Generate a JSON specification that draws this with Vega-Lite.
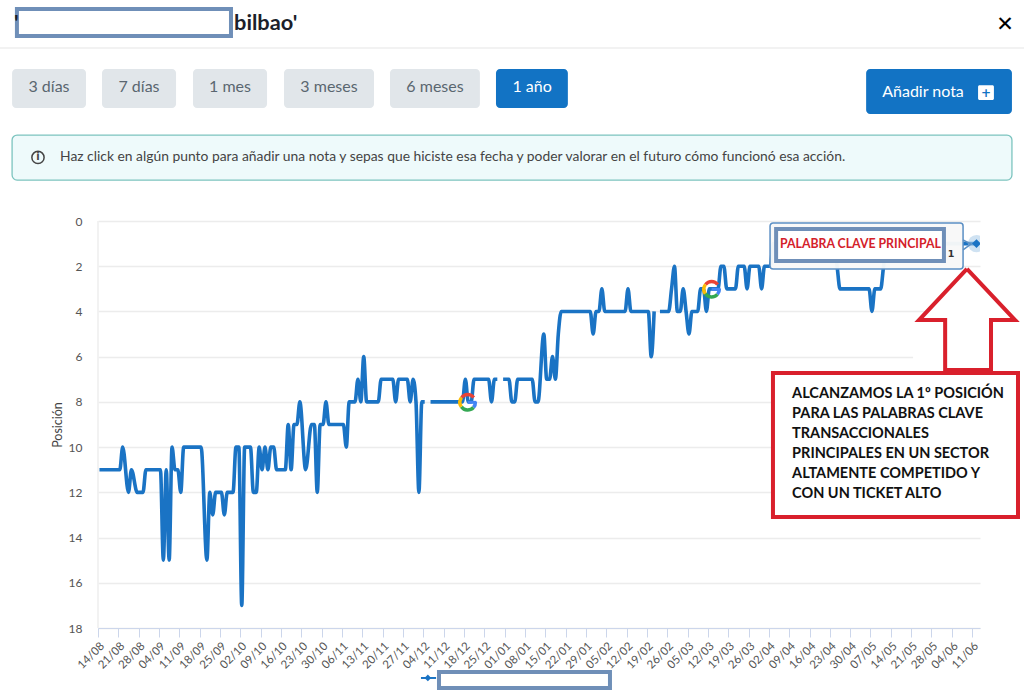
{
"$schema":"https://vega.github.io/schema/vega-lite/v6.json",
"width":882,"height":407,
"autosize":{"type":"none"},
"padding":{"left":98,"top":221,"right":44,"bottom":66},
"background":"white",
"config":{"view":{"stroke":null},"font":"Lato"},
"datasets":{
"serie":[
{"fecha":"2022-08-14T12:00Z","posicion":11},{"fecha":"2022-08-21T12:00Z","posicion":11},{"fecha":"2022-08-22T12:00Z","posicion":10},{"fecha":"2022-08-24T12:00Z","posicion":12},{"fecha":"2022-08-25T12:00Z","posicion":11},{"fecha":"2022-08-27T12:00Z","posicion":12},{"fecha":"2022-08-29T12:00Z","posicion":12},{"fecha":"2022-08-30T12:00Z","posicion":11},
{"fecha":"2022-09-04T12:00Z","posicion":11},{"fecha":"2022-09-05T12:00Z","posicion":15},{"fecha":"2022-09-06T12:00Z","posicion":11},{"fecha":"2022-09-07T12:00Z","posicion":15},{"fecha":"2022-09-08T12:00Z","posicion":10},{"fecha":"2022-09-09T12:00Z","posicion":11},{"fecha":"2022-09-10T12:00Z","posicion":11},{"fecha":"2022-09-11T12:00Z","posicion":12},{"fecha":"2022-09-12T12:00Z","posicion":10},{"fecha":"2022-09-18T12:00Z","posicion":10},{"fecha":"2022-09-20T12:00Z","posicion":15},{"fecha":"2022-09-21T12:00Z","posicion":12},{"fecha":"2022-09-22T12:00Z","posicion":13},{"fecha":"2022-09-23T12:00Z","posicion":12},{"fecha":"2022-09-25T12:00Z","posicion":12},{"fecha":"2022-09-26T12:00Z","posicion":13},{"fecha":"2022-09-27T12:00Z","posicion":12},{"fecha":"2022-09-29T12:00Z","posicion":12},{"fecha":"2022-09-30T12:00Z","posicion":10},
{"fecha":"2022-10-01T12:00Z","posicion":10},{"fecha":"2022-10-02T12:00Z","posicion":17},{"fecha":"2022-10-03T12:00Z","posicion":10},{"fecha":"2022-10-05T12:00Z","posicion":10},{"fecha":"2022-10-06T12:00Z","posicion":12},{"fecha":"2022-10-07T12:00Z","posicion":12},{"fecha":"2022-10-08T12:00Z","posicion":10},{"fecha":"2022-10-09T12:00Z","posicion":11},{"fecha":"2022-10-10T12:00Z","posicion":10},{"fecha":"2022-10-11T12:00Z","posicion":11},{"fecha":"2022-10-12T12:00Z","posicion":10},{"fecha":"2022-10-13T12:00Z","posicion":10},{"fecha":"2022-10-14T12:00Z","posicion":11},{"fecha":"2022-10-17T12:00Z","posicion":11},{"fecha":"2022-10-18T12:00Z","posicion":9},{"fecha":"2022-10-19T12:00Z","posicion":11},{"fecha":"2022-10-20T12:00Z","posicion":9},{"fecha":"2022-10-21T12:00Z","posicion":9},{"fecha":"2022-10-22T12:00Z","posicion":8},{"fecha":"2022-10-24T12:00Z","posicion":11},{"fecha":"2022-10-26T12:00Z","posicion":9},{"fecha":"2022-10-27T12:00Z","posicion":9},{"fecha":"2022-10-28T12:00Z","posicion":12},{"fecha":"2022-10-29T12:00Z","posicion":9},{"fecha":"2022-10-30T12:00Z","posicion":9},{"fecha":"2022-10-31T12:00Z","posicion":8},
{"fecha":"2022-11-01T12:00Z","posicion":9},{"fecha":"2022-11-06T12:00Z","posicion":9},{"fecha":"2022-11-07T12:00Z","posicion":10},{"fecha":"2022-11-08T12:00Z","posicion":8},{"fecha":"2022-11-10T12:00Z","posicion":8},{"fecha":"2022-11-11T12:00Z","posicion":7},{"fecha":"2022-11-12T12:00Z","posicion":8},{"fecha":"2022-11-13T12:00Z","posicion":6},{"fecha":"2022-11-14T12:00Z","posicion":8},{"fecha":"2022-11-18T12:00Z","posicion":8},{"fecha":"2022-11-19T12:00Z","posicion":7},{"fecha":"2022-11-23T12:00Z","posicion":7},{"fecha":"2022-11-24T12:00Z","posicion":8},{"fecha":"2022-11-25T12:00Z","posicion":7},{"fecha":"2022-11-28T12:00Z","posicion":7},{"fecha":"2022-11-29T12:00Z","posicion":8},{"fecha":"2022-11-30T12:00Z","posicion":7},
{"fecha":"2022-12-01T12:00Z","posicion":8},{"fecha":"2022-12-02T12:00Z","posicion":12},{"fecha":"2022-12-03T12:00Z","posicion":8},{"fecha":"2022-12-04T12:00Z","posicion":8},{"fecha":"2022-12-05T12:00Z","posicion":null},{"fecha":"2022-12-06T12:00Z","posicion":8},{"fecha":"2022-12-17T12:00Z","posicion":8},{"fecha":"2022-12-18T12:00Z","posicion":7},{"fecha":"2022-12-19T12:00Z","posicion":8},{"fecha":"2022-12-20T12:00Z","posicion":8},{"fecha":"2022-12-21T12:00Z","posicion":7},{"fecha":"2022-12-26T12:00Z","posicion":7},{"fecha":"2022-12-27T12:00Z","posicion":8},{"fecha":"2022-12-28T12:00Z","posicion":7},{"fecha":"2022-12-29T12:00Z","posicion":7},{"fecha":"2022-12-30T12:00Z","posicion":null},{"fecha":"2022-12-31T12:00Z","posicion":7},
{"fecha":"2023-01-02T12:00Z","posicion":7},{"fecha":"2023-01-03T12:00Z","posicion":8},{"fecha":"2023-01-04T12:00Z","posicion":8},{"fecha":"2023-01-05T12:00Z","posicion":7},{"fecha":"2023-01-10T12:00Z","posicion":7},{"fecha":"2023-01-11T12:00Z","posicion":8},{"fecha":"2023-01-12T12:00Z","posicion":8},{"fecha":"2023-01-14T12:00Z","posicion":5},{"fecha":"2023-01-15T12:00Z","posicion":7},{"fecha":"2023-01-16T12:00Z","posicion":7},{"fecha":"2023-01-17T12:00Z","posicion":6},{"fecha":"2023-01-18T12:00Z","posicion":7},{"fecha":"2023-01-19T12:00Z","posicion":5},{"fecha":"2023-01-20T12:00Z","posicion":4},{"fecha":"2023-01-30T12:00Z","posicion":4},{"fecha":"2023-01-31T12:00Z","posicion":5},
{"fecha":"2023-02-01T12:00Z","posicion":4},{"fecha":"2023-02-02T12:00Z","posicion":4},{"fecha":"2023-02-03T12:00Z","posicion":3},{"fecha":"2023-02-04T12:00Z","posicion":4},{"fecha":"2023-02-11T12:00Z","posicion":4},{"fecha":"2023-02-12T12:00Z","posicion":3},{"fecha":"2023-02-13T12:00Z","posicion":4},{"fecha":"2023-02-19T12:00Z","posicion":4},{"fecha":"2023-02-20T12:00Z","posicion":6},{"fecha":"2023-02-21T12:00Z","posicion":4},{"fecha":"2023-02-22T12:00Z","posicion":null},{"fecha":"2023-02-23T12:00Z","posicion":4},{"fecha":"2023-02-26T12:00Z","posicion":4},{"fecha":"2023-02-27T12:00Z","posicion":3},{"fecha":"2023-02-28T12:00Z","posicion":2},
{"fecha":"2023-03-01T12:00Z","posicion":4},{"fecha":"2023-03-02T12:00Z","posicion":4},{"fecha":"2023-03-03T12:00Z","posicion":3},{"fecha":"2023-03-04T12:00Z","posicion":4},{"fecha":"2023-03-05T12:00Z","posicion":5},{"fecha":"2023-03-06T12:00Z","posicion":4},{"fecha":"2023-03-08T12:00Z","posicion":4},{"fecha":"2023-03-09T12:00Z","posicion":3},{"fecha":"2023-03-10T12:00Z","posicion":3},{"fecha":"2023-03-11T12:00Z","posicion":4},{"fecha":"2023-03-12T12:00Z","posicion":3},{"fecha":"2023-03-15T12:00Z","posicion":3},{"fecha":"2023-03-16T12:00Z","posicion":2},{"fecha":"2023-03-17T12:00Z","posicion":2},{"fecha":"2023-03-18T12:00Z","posicion":3},{"fecha":"2023-03-21T12:00Z","posicion":3},{"fecha":"2023-03-22T12:00Z","posicion":2},{"fecha":"2023-03-24T12:00Z","posicion":2},{"fecha":"2023-03-25T12:00Z","posicion":3},{"fecha":"2023-03-26T12:00Z","posicion":2},{"fecha":"2023-03-29T12:00Z","posicion":2},{"fecha":"2023-03-30T12:00Z","posicion":3},{"fecha":"2023-03-31T12:00Z","posicion":2},
{"fecha":"2023-04-02T12:00Z","posicion":2},{"fecha":"2023-04-03T12:00Z","posicion":1},{"fecha":"2023-04-24T12:00Z","posicion":1},{"fecha":"2023-04-25T12:00Z","posicion":2},{"fecha":"2023-04-26T12:00Z","posicion":3},
{"fecha":"2023-05-06T12:00Z","posicion":3},{"fecha":"2023-05-07T12:00Z","posicion":4},{"fecha":"2023-05-08T12:00Z","posicion":3},{"fecha":"2023-05-10T12:00Z","posicion":3},{"fecha":"2023-05-11T12:00Z","posicion":2},{"fecha":"2023-05-12T12:00Z","posicion":1},{"fecha":"2023-06-12T12:00Z","posicion":1}
],
"google":[{"fecha":"2022-12-19T07:00Z","posicion":8.02},{"fecha":"2023-03-13T07:00Z","posicion":3.02}],
"googleBarra":[{"fecha":"2022-12-19T07:00Z","fecha2":"2022-12-22T07:00Z","posicion":8.02},{"fecha":"2023-03-13T07:00Z","fecha2":"2023-03-16T07:00Z","posicion":3.02}],
"flecha":[
{"n":1,"fecha":"2023-06-09T05:00Z","posicion":2.12},{"n":2,"fecha":"2023-05-23T17:00Z","posicion":4.38},{"n":3,"fecha":"2023-06-01T17:00Z","posicion":4.38},{"n":4,"fecha":"2023-06-01T17:00Z","posicion":6.59},{"n":5,"fecha":"2023-06-17T12:00Z","posicion":6.59},{"n":6,"fecha":"2023-06-17T12:00Z","posicion":4.38},{"n":7,"fecha":"2023-06-25T19:00Z","posicion":4.38},{"n":8,"fecha":"2023-06-09T05:00Z","posicion":2.12}
],
"punta":[{"n":1,"fecha":"2023-06-07T21:00Z","posicion":0.84},{"n":2,"fecha":"2023-06-10T14:00Z","posicion":1.02},{"n":3,"fecha":"2023-06-07T21:00Z","posicion":1.28}],
"ultimo":[{"fecha":"2023-06-12T12:00Z","posicion":1}],
"botones":[
{"fecha":"2022-07-15T10:00Z","fecha2":"2022-08-09T21:00Z","posicion":-6.72,"posicion2":-5.0},
{"fecha":"2022-08-15T09:00Z","fecha2":"2022-09-09T21:00Z","posicion":-6.72,"posicion2":-5.0},
{"fecha":"2022-09-15T17:00Z","fecha2":"2022-10-11T05:00Z","posicion":-6.72,"posicion2":-5.0},
{"fecha":"2022-10-17T01:00Z","fecha2":"2022-11-17T01:00Z","posicion":-6.72,"posicion2":-5.0},
{"fecha":"2022-11-22T13:00Z","fecha2":"2022-12-23T12:00Z","posicion":-6.72,"posicion2":-5.0}
],
"botonesAzules":[
{"fecha":"2022-12-29T01:00Z","fecha2":"2023-01-22T19:00Z","posicion":-6.72,"posicion2":-5.0},
{"fecha":"2023-05-05T12:00Z","fecha2":"2023-06-24T17:00Z","posicion":-6.72,"posicion2":-4.73}
],
"textosBoton":[
{"fecha":"2022-07-28T03:00Z","posicion":-5.92,"texto":"3 días"},
{"fecha":"2022-08-28T03:00Z","posicion":-5.92,"texto":"7 días"},
{"fecha":"2022-09-28T11:00Z","posicion":-5.92,"texto":"1 mes"},
{"fecha":"2022-11-01T13:00Z","posicion":-5.92,"texto":"3 meses"},
{"fecha":"2022-12-08T01:00Z","posicion":-5.92,"texto":"6 meses"}
],
"textosAzules":[
{"fecha":"2023-01-10T11:00Z","posicion":-5.92,"texto":"1 año"},
{"fecha":"2023-05-25T02:00Z","posicion":-5.71,"texto":"Añadir nota"}
],
"cajasOcultas":[
{"fecha":"2022-07-17T02:00Z","fecha2":"2022-09-28T19:00Z","posicion":-9.38,"posicion2":-8.18},
{"fecha":"2023-04-04T12:00Z","fecha2":"2023-06-01T07:00Z","posicion":0.354,"posicion2":1.77},
{"fecha":"2022-12-09T10:00Z","fecha2":"2023-02-06T07:00Z","posicion":19.95,"posicion2":20.65}
],
"mascaras":[
{"fecha":"2023-05-21T16:00Z","fecha2":"2023-06-14T10:00Z","posicion":5.79,"posicion2":6.68},
{"fecha":"2023-05-25T19:00Z","fecha2":"2023-06-14T10:00Z","posicion":3.72,"posicion2":4.38}
],
"lineasRecuadro":[
{"n":1,"fecha":"2023-04-10T00:00Z","posicion":7.65,"texto":"ALCANZAMOS LA 1º POSICIÓN"},
{"n":2,"fecha":"2023-04-10T00:00Z","posicion":8.54,"texto":"PARA LAS PALABRAS CLAVE"},
{"n":3,"fecha":"2023-04-10T00:00Z","posicion":9.42,"texto":"TRANSACCIONALES"},
{"n":4,"fecha":"2023-04-10T00:00Z","posicion":10.31,"texto":"PRINCIPALES EN UN SECTOR"},
{"n":5,"fecha":"2023-04-10T00:00Z","posicion":11.19,"texto":"ALTAMENTE COMPETIDO Y"},
{"n":6,"fecha":"2023-04-10T00:00Z","posicion":12.07,"texto":"CON UN TICKET ALTO"}
]
},
"data":{"name":"serie"},
"encoding":{
"x":{"field":"fecha","type":"temporal","scale":{"type":"utc","domain":["2022-08-14T00:00Z","2023-06-13T17:00Z"]},
"axis":{"title":null,"grid":false,"format":"%d/%m","labelAngle":-45,"labelFontSize":11.5,"labelColor":"#555555","labelFont":"Lato","labelPadding":3,"tickSize":9,"tickColor":"#ccd6eb","domainColor":"#ccd6eb","labelOverlap":false,"labelFlush":false,
"values":["2022-08-14","2022-08-21","2022-08-28","2022-09-04","2022-09-11","2022-09-18","2022-09-25","2022-10-02","2022-10-09","2022-10-16","2022-10-23","2022-10-30","2022-11-06","2022-11-13","2022-11-20","2022-11-27","2022-12-04","2022-12-11","2022-12-18","2022-12-25","2023-01-01","2023-01-08","2023-01-15","2023-01-22","2023-01-29","2023-02-05","2023-02-12","2023-02-19","2023-02-26","2023-03-05","2023-03-12","2023-03-19","2023-03-26","2023-04-02","2023-04-09","2023-04-16","2023-04-23","2023-04-30","2023-05-07","2023-05-14","2023-05-21","2023-05-28","2023-06-04","2023-06-11"]}},
"y":{"field":"posicion","type":"quantitative","scale":{"domain":[0,18],"reverse":true,"nice":false,"zero":false},
"axis":{"title":"Posición","titleFontSize":12.5,"titleFontWeight":"normal","titleColor":"#444444","titlePadding":4,"values":[0,2,4,6,8,10,12,14,16,18],"grid":true,"gridColor":"#ececec","gridWidth":1.5,"domain":false,"ticks":false,"labelPadding":16,"labelFontSize":12,"labelColor":"#555555"}}
},
"layer":[
{"data":{"name":"ultimo"},"mark":{"type":"rule","color":"#eeeeee","strokeWidth":1.5},"encoding":{"x":{"datum":"2023-06-13T17:00Z","type":"temporal"},"y":{"datum":0,"type":"quantitative"},"y2":{"datum":18}}},
{"mark":{"type":"line","color":"#1a73c4","strokeWidth":3.6,"interpolate":"monotone"}},
{"data":{"name":"google"},"mark":{"type":"arc","color":"#ea4335","innerRadius":6,"outerRadius":9.5,"theta":-0.9,"theta2":0.9}},
{"data":{"name":"google"},"mark":{"type":"arc","color":"#4285f4","innerRadius":6,"outerRadius":9.5,"theta":1.5,"theta2":2.3}},
{"data":{"name":"google"},"mark":{"type":"arc","color":"#34a853","innerRadius":6,"outerRadius":9.5,"theta":2.3,"theta2":4.1}},
{"data":{"name":"google"},"mark":{"type":"arc","color":"#fbbc05","innerRadius":6,"outerRadius":9.5,"theta":4.1,"theta2":5.38}},
{"data":{"name":"googleBarra"},"mark":{"type":"rule","color":"#4285f4","strokeWidth":3},"encoding":{"x2":{"field":"fecha2"}}},
{"data":{"name":"ultimo"},"mark":{"type":"point","shape":"circle","filled":true,"size":300,"color":"#a8cbe8","opacity":0.55,"clip":true}},
{"data":{"name":"ultimo"},"mark":{"type":"point","shape":"diamond","filled":true,"size":80,"color":"#1a73c4","opacity":1,"clip":true}},
{"data":{"name":"mascaras"},"mark":{"type":"rect","fill":"white"},"encoding":{"x2":{"field":"fecha2"},"y2":{"field":"posicion2"}}},
{"data":{"name":"flecha"},"mark":{"type":"line","color":"#d9202c","strokeWidth":4,"strokeJoin":"miter"},"encoding":{"order":{"field":"n","type":"quantitative"}}},
{"data":{"values":[{"fecha":"2023-04-03T10:00Z","fecha2":"2023-06-26T19:00Z","posicion":6.72,"posicion2":13.09}]},"mark":{"type":"rect","fill":"white","stroke":"#d9202c","strokeWidth":4},"encoding":{"x2":{"field":"fecha2"},"y2":{"field":"posicion2"}}},
{"data":{"name":"lineasRecuadro"},"mark":{"type":"text","align":"left","baseline":"middle","font":"Lato","fontWeight":"bold","fontSize":14.5,"color":"#111111"},"encoding":{"text":{"field":"texto"}}},
{"data":{"values":[{"fecha":"2023-04-02T10:00Z","fecha2":"2023-06-07T21:00Z","posicion":0.088,"posicion2":2.12}]},"mark":{"type":"rect","fill":"#f8f8f8","fillOpacity":0.97,"stroke":"#5b8fc4","strokeWidth":1.5,"cornerRadius":3},"encoding":{"x2":{"field":"fecha2"},"y2":{"field":"posicion2"}}},
{"data":{"name":"punta"},"mark":{"type":"line","color":"#5b8fc4","strokeWidth":1.5,"strokeJoin":"miter"},"encoding":{"order":{"field":"n","type":"quantitative"}}},
{"data":{"name":"cajasOcultas"},"mark":{"type":"rect","fill":"white","stroke":"#6f8fb8","strokeWidth":4},"encoding":{"x2":{"field":"fecha2"},"y2":{"field":"posicion2"}}},
{"data":{"values":[{"fecha":"2023-04-05T20:00Z","posicion":1.017,"texto":"PALABRA CLAVE PRINCIPAL"}]},"mark":{"type":"text","align":"left","baseline":"middle","font":"Lato","fontWeight":"bold","fontSize":12.3,"color":"#d4202a"},"encoding":{"text":{"field":"texto"}}},
{"data":{"values":[{"fecha":"2023-06-03T17:00Z","posicion":1.46,"texto":"1"}]},"mark":{"type":"text","align":"center","baseline":"middle","font":"DejaVu Sans","fontWeight":"bold","fontSize":9.5,"color":"#333333"},"encoding":{"text":{"field":"texto"}}},
{"data":{"values":[{"fecha":"2022-07-16T02:00Z","posicion":-8.76,"texto":"'"},{"fecha":"2022-09-29T20:00Z","posicion":-8.76,"texto":"bilbao'"}]},"mark":{"type":"text","align":"left","baseline":"middle","font":"Lato","fontWeight":"bold","fontSize":21.8,"color":"#1c1f2b"},"encoding":{"text":{"field":"texto"}}},
{"data":{"values":[{"fecha":"2023-06-22T07:00Z","posicion":-8.67,"texto":"✕"}]},"mark":{"type":"text","align":"center","baseline":"middle","font":"DejaVu Sans","fontWeight":"bold","fontSize":21,"color":"#000000"},"encoding":{"text":{"field":"texto"}}},
{"data":{"values":[{"fecha":"2022-07-11T06:00Z","fecha2":"2023-06-28T22:00Z","posicion":-7.65}]},"mark":{"type":"rule","color":"#eeeeee","strokeWidth":1.5},"encoding":{"x2":{"field":"fecha2"}}},
{"data":{"name":"botones"},"mark":{"type":"rect","fill":"#e1e6ea","cornerRadius":4},"encoding":{"x2":{"field":"fecha2"},"y2":{"field":"posicion2"}}},
{"data":{"name":"botonesAzules"},"mark":{"type":"rect","fill":"#1273c4","cornerRadius":4},"encoding":{"x2":{"field":"fecha2"},"y2":{"field":"posicion2"}}},
{"data":{"name":"textosBoton"},"mark":{"type":"text","align":"center","baseline":"middle","font":"Lato","fontSize":16,"color":"#5a6670"},"encoding":{"text":{"field":"texto"}}},
{"data":{"name":"textosAzules"},"mark":{"type":"text","align":"center","baseline":"middle","font":"Lato","fontSize":16,"color":"#ffffff"},"encoding":{"text":{"field":"texto"}}},
{"data":{"values":[{"fecha":"2023-06-13T01:00Z","fecha2":"2023-06-18T12:00Z","posicion":-6.0,"posicion2":-5.35}]},"mark":{"type":"rect","fill":"white","cornerRadius":1.5},"encoding":{"x2":{"field":"fecha2"},"y2":{"field":"posicion2"}}},
{"data":{"values":[{"fecha":"2023-06-15T19:00Z","posicion":-5.68,"texto":"+"}]},"mark":{"type":"text","align":"center","baseline":"middle","font":"DejaVu Sans","fontWeight":"bold","fontSize":12,"color":"#1273c4"},"encoding":{"text":{"field":"texto"}}},
{"data":{"values":[{"fecha":"2022-07-15T10:00Z","fecha2":"2023-06-24T17:00Z","posicion":-3.8,"posicion2":-1.81}]},"mark":{"type":"rect","fill":"#eefafb","stroke":"#7cc4bf","strokeWidth":1.3,"cornerRadius":5},"encoding":{"x2":{"field":"fecha2"},"y2":{"field":"posicion2"}}},
{"data":{"values":[{"fecha":"2022-07-24T08:00Z","posicion":-2.81}]},"mark":{"type":"point","shape":"circle","size":150,"stroke":"#444444","strokeWidth":1.5,"filled":false,"opacity":1}},
{"data":{"values":[{"fecha":"2022-07-24T08:00Z","posicion":-2.81,"texto":"i"}]},"mark":{"type":"text","align":"center","baseline":"middle","font":"DejaVu Sans","fontWeight":"bold","fontSize":10,"color":"#444444"},"encoding":{"text":{"field":"texto"}}},
{"data":{"values":[{"fecha":"2022-07-31T22:00Z","posicion":-2.81,"texto":"Haz click en algún punto para añadir una nota y sepas que hiciste esa fecha y poder valorar en el futuro cómo funcionó esa acción."}]},"mark":{"type":"text","align":"left","baseline":"middle","font":"Lato","fontSize":13.87,"color":"#444444"},"encoding":{"text":{"field":"texto"}}},
{"data":{"values":[{"fecha":"2022-12-03T05:00Z","fecha2":"2022-12-08T10:00Z","posicion":20.21}]},"mark":{"type":"rule","color":"#1a73c4","strokeWidth":2},"encoding":{"x2":{"field":"fecha2"}}},
{"data":{"values":[{"fecha":"2022-12-05T14:00Z","posicion":20.21}]},"mark":{"type":"point","shape":"diamond","filled":true,"size":45,"color":"#1a73c4","opacity":1}}
]
}
